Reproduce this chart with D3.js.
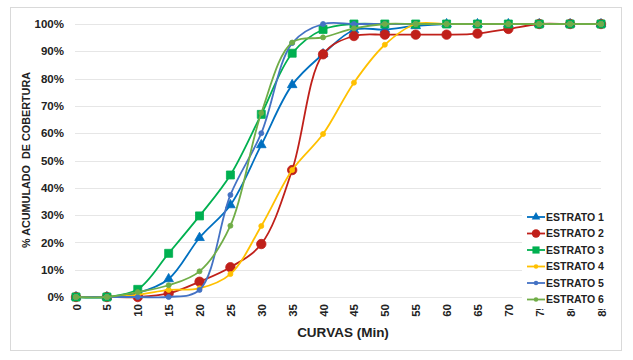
<!DOCTYPE html>
<html>
<head>
<meta charset="utf-8">
<script src="https://cdn.jsdelivr.net/npm/d3@7"></script>
<style>
  body { margin: 0; background: #fff; }
  svg { display: block; font-family: "Liberation Sans", Arial, sans-serif; }
</style>
</head>
<body>
<svg id="chart" width="633" height="360"></svg>
<script>
// minutes on the x axis
const minutes = [0, 5, 10, 15, 20, 25, 30, 35, 40, 45, 50, 55, 60, 65, 70, 75, 80, 85];
const yTicks = [0, 0.1, 0.2, 0.3, 0.4, 0.5, 0.6, 0.7, 0.8, 0.9, 1];
const seriesNames = ['ESTRATO 1', 'ESTRATO 2', 'ESTRATO 3', 'ESTRATO 4', 'ESTRATO 5', 'ESTRATO 6'];

// cumulative coverage
const estrato1 = [0, 0, 0.015, 0.066, 0.217, 0.337, 0.557, 0.777, 0.89, 0.978, 0.98, 0.993, 1, 1, 1, 1, 1, 1];
const estrato2 = [0, 0, 0, 0.013, 0.056, 0.109, 0.194, 0.465, 0.889, 0.956, 0.961, 0.961, 0.961, 0.965, 0.982, 1, 1, 1];
const estrato3 = [0, 0, 0.028, 0.16, 0.297, 0.447, 0.669, 0.893, 0.98, 1, 1, 1, 1, 1, 1, 1, 1, 1];
const estrato4 = [0, 0, 0.008, 0.026, 0.032, 0.084, 0.26, 0.465, 0.597, 0.785, 0.924, 1, 1, 1, 1, 1, 1, 1];
const estrato5 = [0, 0, 0, 0, 0.026, 0.374, 0.60, 0.93, 1, 1, 1, 1, 1, 1, 1, 1, 1, 1];
const estrato6 = [0, 0, 0.018, 0.043, 0.094, 0.261, 0.674, 0.932, 0.951, 0.984, 1, 1, 1, 1, 1, 1, 1, 1];

const colors = ['#0070C0', '#C0201A', '#00B050', '#FFC000', '#4472C4', '#70AD47'];
const markers = [
  {type: d3.symbolTriangle, size: 40},
  {type: d3.symbolCircle, size: 70},
  {type: d3.symbolSquare, size: 64},
  {type: d3.symbolCircle, size: 20},
  {type: d3.symbolCircle, size: 20},
  {type: d3.symbolCircle, size: 20}
];
const allValues = [estrato1, estrato2, estrato3, estrato4, estrato5, estrato6];

const svg = d3.select('#chart');

// outer frame
svg.append('rect')
  .attr('x', 10.5).attr('y', 7.5)
  .attr('width', 611).attr('height', 343)
  .attr('fill', '#fff')
  .attr('stroke', '#D9D9D9')
  .attr('stroke-width', 1);

const x = d3.scaleLinear().domain([0, 85]).range([76, 601]);
const y = d3.scaleLinear().domain([0, 1]).range([297, 24]);

// gridlines
svg.append('g')
  .selectAll('line')
  .data(yTicks)
  .join('line')
  .attr('x1', 75).attr('x2', 601)
  .attr('y1', d => Math.round(y(d)) + 0.5)
  .attr('y2', d => Math.round(y(d)) + 0.5)
  .attr('stroke', '#E6E6E6')
  .attr('stroke-width', 1);

// y axis labels
const axisY = d3.axisLeft(y).tickValues(yTicks).tickFormat(d3.format('.0%')).tickSize(0).tickPadding(0);
const gy = svg.append('g').attr('transform', 'translate(64,0)').call(axisY);
gy.select('.domain').remove();
gy.selectAll('text')
  .attr('font-size', 11.5)
  .attr('font-weight', 'bold')
  .attr('fill', '#222')
  .attr('font-family', '"Liberation Sans", Arial, sans-serif');

// x axis labels (rotated)
const axisX = d3.axisBottom(x).tickValues(minutes).tickFormat(d => d).tickSize(0).tickPadding(0);
const gx = svg.append('g').attr('transform', 'translate(0,304)').call(axisX);
gx.select('.domain').remove();
gx.selectAll('text')
  .attr('font-size', 11.5)
  .attr('font-weight', 'bold')
  .attr('fill', '#222')
  .attr('font-family', '"Liberation Sans", Arial, sans-serif')
  .attr('transform', 'rotate(-90)')
  .attr('text-anchor', 'end')
  .attr('x', 0)
  .attr('y', 0)
  .attr('dy', '0.35em');

// axis titles
svg.append('text')
  .attr('x', 343).attr('y', 337)
  .attr('text-anchor', 'middle')
  .attr('font-size', 13.5)
  .attr('font-weight', 'bold')
  .attr('fill', '#222')
  .text('CURVAS (Min)');

svg.append('text')
  .attr('transform', 'translate(30,160) rotate(-90)')
  .attr('text-anchor', 'middle')
  .attr('font-size', 10.8)
  .attr('font-weight', 'bold')
  .attr('fill', '#222')
  .attr('xml:space', 'preserve')
  .text('% ACUMULADO  DE COBERTURA');

// series
const line = d3.line()
  .x(d => x(d.m))
  .y(d => y(d.v))
  .curve(d3.curveCatmullRom.alpha(0.5));

allValues.forEach((vals, i) => {
  const pts = minutes.map((m, j) => ({m: m, v: vals[j]}));
  const g = svg.append('g');
  g.append('path')
    .datum(pts)
    .attr('fill', 'none')
    .attr('stroke', colors[i])
    .attr('stroke-width', 1.8)
    .attr('stroke-linejoin', 'round')
    .attr('d', line);
  g.selectAll('path.mk')
    .data(pts)
    .join('path')
    .attr('class', 'mk')
    .attr('transform', d => `translate(${x(d.m)},${y(d.v)})`)
    .attr('d', d3.symbol().type(markers[i].type).size(markers[i].size))
    .attr('fill', colors[i])
    .attr('stroke', colors[i])
    .attr('stroke-width', 0.8);
});

// legend
const legend = svg.append('g');
legend.append('rect')
  .attr('x', 522).attr('y', 208)
  .attr('width', 92).attr('height', 101)
  .attr('fill', '#fff');

seriesNames.forEach((name, i) => {
  const ly = 217 + i * 16.5;
  legend.append('line')
    .attr('x1', 527).attr('x2', 545)
    .attr('y1', ly).attr('y2', ly)
    .attr('stroke', colors[i])
    .attr('stroke-width', 1.8);
  legend.append('path')
    .attr('transform', `translate(536,${ly})`)
    .attr('d', d3.symbol().type(markers[i].type).size(markers[i].size * 0.8))
    .attr('fill', colors[i]);
  legend.append('text')
    .attr('x', 546).attr('y', ly)
    .attr('dy', '0.35em')
    .attr('font-size', 10.5)
    .attr('font-weight', 'bold')
    .attr('fill', '#222')
    .text(name);
});
</script>
</body>
</html>
